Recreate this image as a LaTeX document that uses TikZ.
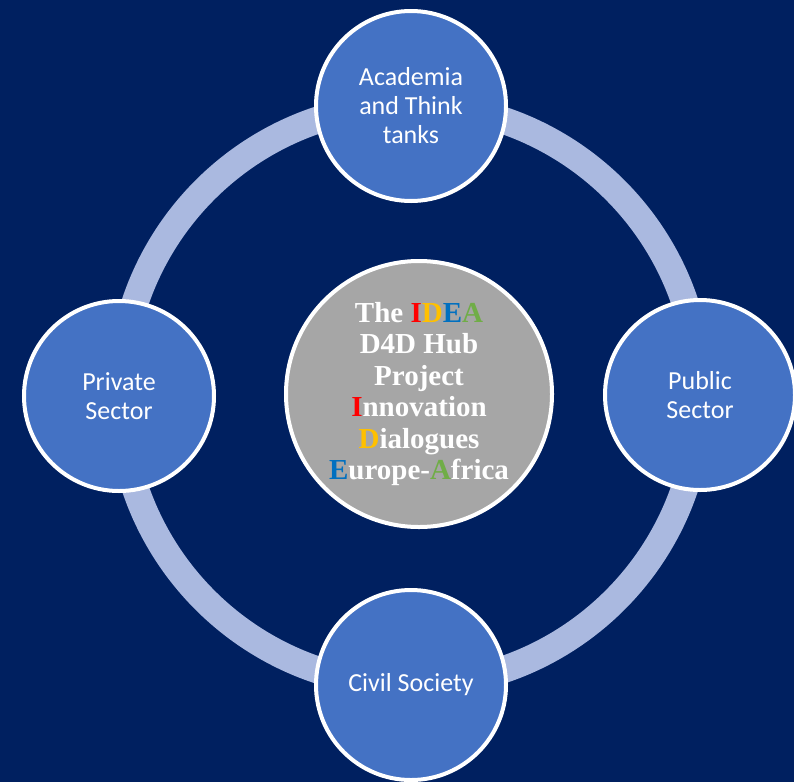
\documentclass[tikz,border=0pt]{standalone}
\usepackage{fontspec}
\setmainfont{Carlito}
\newfontfamily\serifbold{Liberation Serif}
\definecolor{navy}{HTML}{002060}
\definecolor{ringcol}{HTML}{AAB9E0}
\definecolor{stakeblue}{HTML}{4472C4}
\definecolor{hubgrey}{HTML}{A6A6A6}
\definecolor{ired}{HTML}{FF0000}
\definecolor{dgold}{HTML}{FFC000}
\definecolor{eblue}{HTML}{0070C0}
\definecolor{agreen}{HTML}{70AD47}
\begin{document}
\begin{tikzpicture}[x=1pt,y=-1pt,
  stakeholder/.style={circle,draw=white,line width=4pt,fill=stakeblue,
    minimum size=190pt,inner sep=0pt,align=center,text=white,
    font=\fontsize{26}{29}\selectfont},
  hub/.style={circle,draw=white,line width=4pt,fill=hubgrey,
    minimum size=266pt,inner sep=0pt,align=center,text=white,
    font=\serifbold\bfseries\fontsize{29}{31.5}\selectfont},
  ringline/.style={draw=ringcol,line width=27pt}]
  % background
  \fill[navy] (0,0) rectangle (794,782);
  \useasboundingbox (0,0) rectangle (794,782);
  % ring linking the stakeholder groups
  \coordinate (c) at (410,395);
  \draw[ringline] (c) circle[radius=290];
  % stakeholder groups
  \node[stakeholder] (academia) at (411,106) {Academia\\and Think\\tanks};
  \node[stakeholder] (private) at (119,396) {Private\\Sector};
  \node[stakeholder] (public) at (700,395) {Public\\Sector};
  \node[stakeholder] (civil) at (411,685) {Civil Society};
  % central hub
  \node[hub] (idea) at (419,394) {The \textcolor{ired}{I}\textcolor{dgold}{D}\textcolor{eblue}{E}\textcolor{agreen}{A}\\
    D4D Hub\\Project\\\textcolor{ired}{I}nnovation\\\textcolor{dgold}{D}ialogues\\
    \textcolor{eblue}{E}urope-\textcolor{agreen}{A}frica};
\end{tikzpicture}
\end{document}
